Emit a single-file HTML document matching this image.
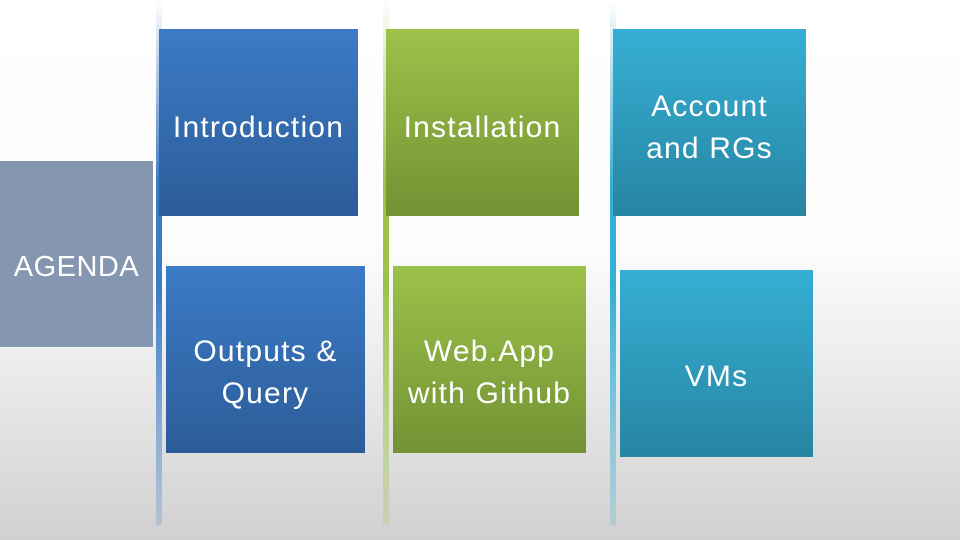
<!DOCTYPE html>
<html><head><style>
body{margin:0;width:960px;height:540px;overflow:hidden;position:relative;font-family:"Liberation Sans",sans-serif;
background:linear-gradient(to bottom,#ffffff 0%,#fdfdfd 45%,#e6e6e6 75%,#d0d0d0 100%);}
.bar{position:absolute;top:0;width:6px;height:525px;}
.box{position:absolute;width:199px;height:187px;color:#fff;font-size:30px;letter-spacing:1.2px;line-height:42px;display:flex;align-items:center;justify-content:center;text-align:center;box-sizing:border-box;white-space:nowrap;}
.t{padding-top:10px;}
.u{padding-top:26px;}
.b{background:linear-gradient(to bottom,#3c7bc6,#2c5c99);}
.g{background:linear-gradient(to bottom,#9cc24a,#739234);width:193px;}
.c{background:linear-gradient(to bottom,#36afd4,#2785a2);width:193px;}
</style></head><body>
<div class="bar" style="left:156px;background:linear-gradient(to bottom,rgba(60,123,198,0),#3c7bc6 35%,#3c7bc6 55%,rgba(60,123,198,0.2))"></div>
<div class="bar" style="left:383px;background:linear-gradient(to bottom,rgba(156,194,74,0),#9cc24a 35%,#9cc24a 55%,rgba(156,194,74,0.2))"></div>
<div class="bar" style="left:610px;background:linear-gradient(to bottom,rgba(54,175,212,0),#36afd4 35%,#36afd4 55%,rgba(54,175,212,0.2))"></div>
<div class="box u" style="left:0;top:161px;width:153px;height:186px;background:#8496b0;font-size:29px;letter-spacing:0.5px;">AGENDA</div>
<div class="box b t" style="left:159px;top:29px;">Introduction</div>
<div class="box b u" style="left:166px;top:266px;">Outputs &amp;<br>Query</div>
<div class="box g t" style="left:386px;top:29px;">Installation</div>
<div class="box g u" style="left:393px;top:266px;">Web.App<br>with Github</div>
<div class="box c t" style="left:613px;top:29px;">Account<br>and RGs</div>
<div class="box c u" style="left:620px;top:270px;">VMs</div>
</body></html>
